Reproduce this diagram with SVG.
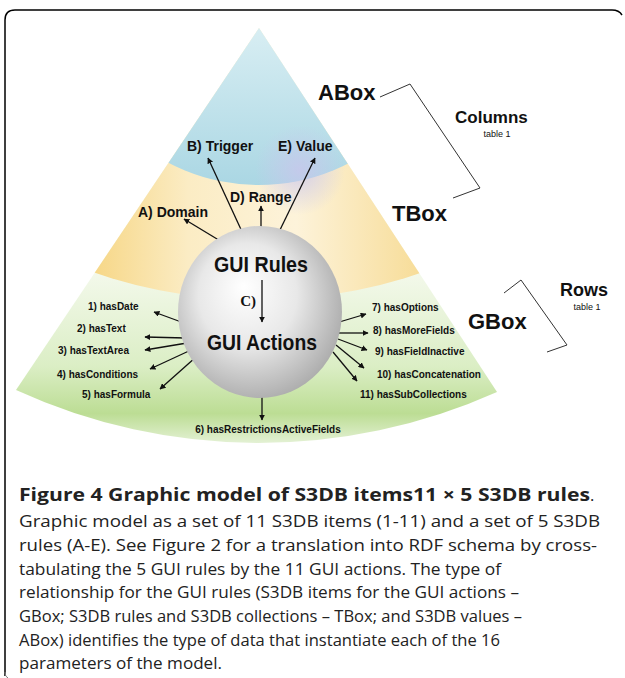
<svg xmlns="http://www.w3.org/2000/svg" width="625" height="678" viewBox="0 0 625 678">
  <style>
    .lbl { font-family: "Liberation Sans", Arial, sans-serif; font-weight: bold; fill: #111; }
    .big { font-size: 22px; }
    .mid { font-size: 14px; }
    .sm { font-size: 10px; }
    .tiny { font-size: 9px; font-weight: normal; }
    .cap { font-family: "Open Sans", "Noto Sans", sans-serif; font-size: 16.5px; fill: #222; }
    .capb { font-weight: bold; }
    .arr { stroke: #111; stroke-width: 1.3; fill: none; marker-end: url(#ah); }
    .brk { stroke: #333; stroke-width: 1; fill: none; }
  </style>
  <defs>
    <marker id="ah" viewBox="0 0 10 10" refX="9" refY="5" markerWidth="6" markerHeight="6" markerUnits="userSpaceOnUse" orient="auto">
      <path d="M0,0 L10,5 L0,10 Z" fill="#111"/>
    </marker>
    <clipPath id="pyr">
      <path d="M259,28 L16,390 A583 583 0 0 0 497,392 Z"/>
    </clipPath>
    <linearGradient id="gGreen" x1="0" y1="270" x2="0" y2="445" gradientUnits="userSpaceOnUse">
      <stop offset="0" stop-color="#f4f9ec"/>
      <stop offset="0.55" stop-color="#dbeec5"/>
      <stop offset="0.82" stop-color="#bcdd94"/>
      <stop offset="1" stop-color="#e6f2d8"/>
    </linearGradient>
    <linearGradient id="gYellow" x1="80" y1="0" x2="440" y2="0" gradientUnits="userSpaceOnUse">
      <stop offset="0" stop-color="#f6d47e"/>
      <stop offset="0.3" stop-color="#fbecc4"/>
      <stop offset="0.6" stop-color="#fdf3da"/>
      <stop offset="1" stop-color="#f6d98e"/>
    </linearGradient>
    <linearGradient id="gBlue" x1="0" y1="28" x2="0" y2="190" gradientUnits="userSpaceOnUse">
      <stop offset="0" stop-color="#d8eef3"/>
      <stop offset="1" stop-color="#a9d6e3"/>
    </linearGradient>
    <radialGradient id="gTint" cx="300" cy="170" r="45" gradientUnits="userSpaceOnUse">
      <stop offset="0" stop-color="#c9c6ec" stop-opacity="0.8"/>
      <stop offset="1" stop-color="#c9c6ec" stop-opacity="0"/>
    </radialGradient>
    <radialGradient id="gSphere" cx="0.45" cy="0.45" r="0.6" fx="0.4" fy="0.35">
      <stop offset="0" stop-color="#ffffff"/>
      <stop offset="0.5" stop-color="#e8e8e8"/>
      <stop offset="1" stop-color="#a8a8a8"/>
    </radialGradient>
  </defs>

  <!-- panel frame -->
  <path d="M5,676 L5,20 Q5,10 15,10 L612,10 Q619,10 622,15" fill="none" stroke="#000" stroke-width="1.5"/>
  <path d="M5,672 Q5,677 8,678" fill="none" stroke="#777" stroke-width="1"/>

  <!-- layered pyramid: GBox / TBox / ABox -->
  <g id="pyramid" clip-path="url(#pyr)">
    <rect x="0" y="0" width="625" height="450" fill="url(#gGreen)"/>
    <circle cx="258" cy="-205" r="505" fill="url(#gYellow)"/>
    <circle cx="259" cy="-10" r="195" fill="url(#gBlue)"/>
    <circle cx="300" cy="170" r="45" fill="url(#gTint)"/>
  </g>

  <!-- layer names and brackets -->
  <g id="abox"><text class="lbl big" x="318" y="100">ABox</text></g>
  <g id="tbox"><text class="lbl big" x="392" y="221">TBox</text></g>
  <g id="gbox"><text class="lbl big" x="468" y="329">GBox</text></g>
  <g id="columns">
    <text class="lbl" font-size="17" x="455" y="123">Columns</text>
    <text class="lbl tiny" x="497" y="137" text-anchor="middle">table 1</text>
    <polyline class="brk" points="380,97 410,84 480,188 453,198"/>
  </g>
  <g id="rows">
    <text class="lbl" font-size="18" x="560" y="296">Rows</text>
    <text class="lbl tiny" x="587" y="310" text-anchor="middle">table 1</text>
    <polyline class="brk" points="504,293 521,280 567,345 547,352"/>
  </g>

  <!-- connectors -->
  <g id="connectors">
    <line class="arr" x1="222" y1="242" x2="184" y2="219"/>
    <line class="arr" x1="244" y1="236" x2="208" y2="158"/>
    <line class="arr" x1="261" y1="234" x2="261" y2="206"/>
    <line class="arr" x1="277" y1="236" x2="315" y2="158"/>
    <line class="arr" x1="184" y1="323" x2="154" y2="312"/>
    <line class="arr" x1="186" y1="338" x2="145" y2="337"/>
    <line class="arr" x1="187" y1="343" x2="145" y2="350"/>
    <line class="arr" x1="191" y1="350" x2="150" y2="369"/>
    <line class="arr" x1="196" y1="357" x2="160" y2="389"/>
    <line class="arr" x1="262" y1="393" x2="262" y2="420"/>
    <line class="arr" x1="336" y1="323" x2="366" y2="314"/>
    <line class="arr" x1="338" y1="333" x2="368" y2="333"/>
    <line class="arr" x1="338" y1="339" x2="367" y2="350"/>
    <line class="arr" x1="336" y1="345" x2="364" y2="368"/>
    <line class="arr" x1="333" y1="352" x2="357" y2="381"/>
  </g>

  <!-- central sphere -->
  <g id="gui">
    <ellipse cx="260" cy="312" rx="82" ry="86" fill="url(#gSphere)"/>
    <text class="lbl big" x="261" y="272" text-anchor="middle" textLength="94" lengthAdjust="spacingAndGlyphs">GUI Rules</text>
    <line class="arr" x1="262" y1="280" x2="262" y2="322"/>
    <text x="256" y="306" text-anchor="end" font-family="Liberation Serif, serif" font-weight="bold" font-size="15" fill="#111">C)</text>
    <text class="lbl big" x="262" y="350" text-anchor="middle" textLength="110" lengthAdjust="spacingAndGlyphs">GUI Actions</text>
  </g>

  <!-- rules A-E -->
  <g id="rule-a"><text class="lbl mid" x="138" y="217">A) Domain</text></g>
  <g id="rule-b"><text class="lbl mid" x="187" y="151">B) Trigger</text></g>
  <g id="rule-d"><text class="lbl mid" x="230" y="202">D) Range</text></g>
  <g id="rule-e"><text class="lbl mid" x="278" y="151">E) Value</text></g>

  <!-- actions 1-11 -->
  <g id="act-1"><text class="lbl sm" x="88" y="310">1) hasDate</text></g>
  <g id="act-2"><text class="lbl sm" x="77" y="332">2) hasText</text></g>
  <g id="act-3"><text class="lbl sm" x="58" y="354">3) hasTextArea</text></g>
  <g id="act-4"><text class="lbl sm" x="57" y="378">4) hasConditions</text></g>
  <g id="act-5"><text class="lbl sm" x="82" y="398">5) hasFormula</text></g>
  <g id="act-6"><text class="lbl sm" x="268" y="433" text-anchor="middle">6) hasRestrictionsActiveFields</text></g>
  <g id="act-7"><text class="lbl sm" x="372" y="311">7) hasOptions</text></g>
  <g id="act-8"><text class="lbl sm" x="373" y="334">8) hasMoreFields</text></g>
  <g id="act-9"><text class="lbl sm" x="375" y="355">9) hasFieldInactive</text></g>
  <g id="act-10"><text class="lbl sm" x="377" y="378">10) hasConcatenation</text></g>
  <g id="act-11"><text class="lbl sm" x="360" y="398">11) hasSubCollections</text></g>

  <!-- caption -->
  <g id="caption">
    <text class="cap" x="19" y="501"><tspan class="capb" font-size="18" textLength="571" lengthAdjust="spacingAndGlyphs">Figure 4 Graphic model of S3DB items11 × 5 S3DB rules</tspan><tspan>.</tspan></text>
    <text class="cap" x="19" y="527" textLength="581" lengthAdjust="spacingAndGlyphs">Graphic model as a set of 11 S3DB items (1-11) and a set of 5 S3DB</text>
    <text class="cap" x="19" y="551" textLength="578" lengthAdjust="spacingAndGlyphs">rules (A-E). See Figure 2 for a translation into RDF schema by cross-</text>
    <text class="cap" x="19" y="575" textLength="482" lengthAdjust="spacingAndGlyphs">tabulating the 5 GUI rules by the 11 GUI actions. The type of</text>
    <text class="cap" x="19" y="598" textLength="500" lengthAdjust="spacingAndGlyphs">relationship for the GUI rules (S3DB items for the GUI actions –</text>
    <text class="cap" x="19" y="622" textLength="503" lengthAdjust="spacingAndGlyphs">GBox; S3DB rules and S3DB collections – TBox; and S3DB values –</text>
    <text class="cap" x="19" y="646" textLength="481" lengthAdjust="spacingAndGlyphs">ABox) identifies the type of data that instantiate each of the 16</text>
    <text class="cap" x="19" y="669" textLength="203" lengthAdjust="spacingAndGlyphs">parameters of the model.</text>
  </g>
</svg>
